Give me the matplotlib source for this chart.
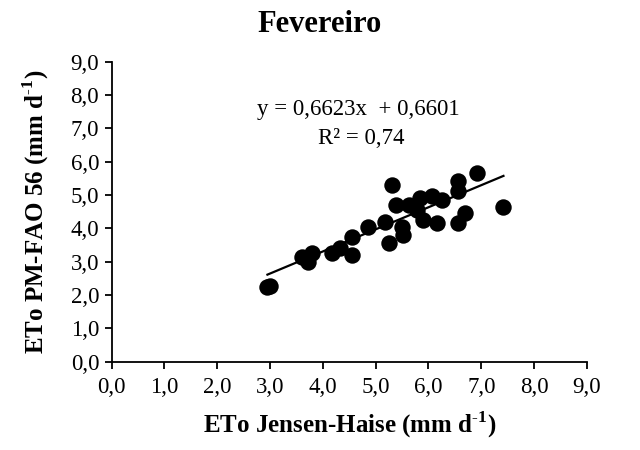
import matplotlib
matplotlib.use("Agg")
import matplotlib.pyplot as plt
import numpy as np
from matplotlib.ticker import FuncFormatter

# Data
eto_jensen_haise = [2.95, 3.00, 3.60, 3.79, 3.72, 4.18, 4.32, 4.55, 4.55, 4.86,
                    5.18, 5.30, 5.26, 5.38, 5.49, 5.52, 5.64, 5.84, 6.06, 6.25,
                    5.90, 6.16, 6.56, 6.56, 6.56, 6.69, 6.91, 7.42, 5.78]
eto_pm_fao56 = [2.25, 2.28, 3.15, 3.26, 3.00, 3.27, 3.40, 3.20, 3.75, 4.05,
                4.20, 5.31, 3.57, 4.71, 4.05, 3.80, 4.71, 4.91, 4.96, 4.86,
                4.26, 4.16, 5.41, 5.11, 4.16, 4.46, 5.66, 4.65, 4.55]
slope = 0.6623
intercept = 0.6601
r2 = 0.74
title = "Fevereiro"
tick_values = [0, 1, 2, 3, 4, 5, 6, 7, 8, 9]

plt.rcParams['font.family'] = ['Liberation Serif', 'DejaVu Serif']
plt.rcParams['mathtext.fontset'] = 'custom'
plt.rcParams['mathtext.rm'] = 'Liberation Serif'
plt.rcParams['mathtext.bf'] = 'Liberation Serif:bold'

fig = plt.figure(figsize=(6.4, 4.5), dpi=100)
ax = fig.add_axes([0.1745, 0.196, 0.7425, 0.667])

x = np.array(eto_jensen_haise)
y = np.array(eto_pm_fao56)
ax.scatter(x, y, s=140, color='black', zorder=3, linewidths=0)
xl = np.array([x.min(), x.max()])
ax.plot(xl, slope * xl + intercept, color='black', lw=1.6, zorder=2)

ax.set_xlim(0, 9)
ax.set_ylim(0, 9)
ax.set_xticks(tick_values)
ax.set_yticks(tick_values)
fmt = FuncFormatter(lambda v, p: f"{v:.1f}".replace('.', ','))
ax.xaxis.set_major_formatter(fmt)
ax.yaxis.set_major_formatter(fmt)
ax.tick_params(axis='both', direction='out', length=5, width=1.3, labelsize=16.5, color='black')
ax.tick_params(axis='x', pad=6)
ax.tick_params(axis='y', pad=4)
for s in ['top', 'right']:
    ax.spines[s].set_visible(False)
for s in ['left', 'bottom']:
    ax.spines[s].set_linewidth(1.3)
    ax.spines[s].set_color('black')

sup = r"$^{\mathbf{\text{-}1}}$"
ax.set_xlabel("ETo Jensen-Haise (mm d" + sup + ")", fontsize=18, fontweight='bold', labelpad=8)
ax.set_ylabel("ETo PM-FAO 56 (mm d" + sup + ")", fontsize=18, fontweight='bold', labelpad=14)
fig.text(0.5, 0.945, title, ha='center', va='center', fontsize=22, fontweight='bold')

eq = f"y = {slope:.4f}x  + {intercept:.4f}".replace('.', ',')
ax.text(0.52, 0.84, eq, transform=ax.transAxes, ha='center', va='center', fontsize=16.5)
ax.text(0.525, 0.745, f"R² = {r2:.2f}".replace('.', ','), transform=ax.transAxes,
        ha='center', va='center', fontsize=16.5)

fig.savefig("out.png", dpi=100)
